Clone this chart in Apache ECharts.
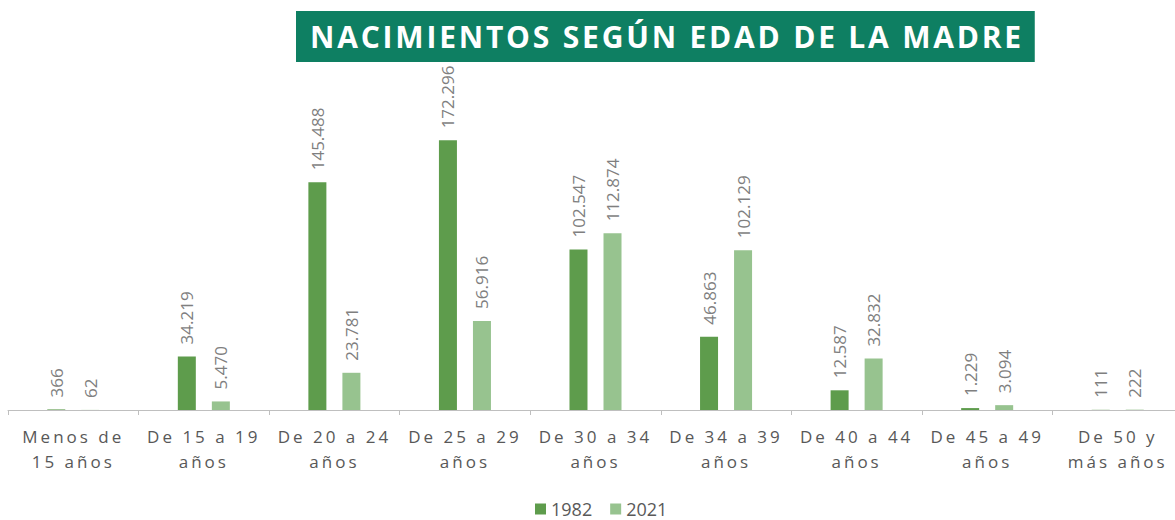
<!DOCTYPE html>
<html style="height: 100%">
   <head>
       <meta charset="utf-8">
       <style>
           /* spaced-out lettering, as in the original */
           #container svg text[fill="#585858"] { letter-spacing: 3px; }
           #container svg text[fill="#ffffff"] { letter-spacing: 2.8px; }
       </style>
   </head>
   <body style="height: 100%; margin: 0; background: #fff; overflow: hidden">
       <!-- the plot runs a little past the right edge, as in the original -->
       <div id="container" style="height: 100%; width: 1183px"></div>
       <script type="text/javascript" src="https://cdn.jsdelivr.net/npm/echarts@6/dist/echarts.min.js"></script>
       <script type="text/javascript">
var titleText = 'NACIMIENTOS SEGÚN EDAD DE LA MADRE';
var categories = ['Menos de\n15 años', 'De 15 a 19\naños', 'De 20 a 24\naños', 'De 25 a 29\naños',
    'De 30 a 34\naños', 'De 34 a 39\naños', 'De 40 a 44\naños', 'De 45 a 49\naños', 'De 50 y\nmás años'];
var births1982 = [366, 34219, 145488, 172296, 102547, 46863, 12587, 1229, 111];
var births2021 = [62, 5470, 23781, 56916, 112874, 102129, 32832, 3094, 222];
var seriesNames = ['1982', '2021'];

// 145488 -> "145.488"
var fmt = function (v) {
    return String(v).replace(/\B(?=(\d{3})+(?!\d))/g, '.');
};

var dom = document.getElementById("container");
var myChart = echarts.init(dom, null, { renderer: 'svg' });

var barLabel = {
    show: true,
    position: 'top',
    rotate: 90,
    align: 'left',
    verticalAlign: 'middle',
    distance: 12,
    color: '#7f7f7f',
    fontFamily: 'Open Sans',
    fontSize: 17,
    formatter: function (p) { return fmt(p.value); }
};

option = {
    backgroundColor: '#ffffff',
    animation: false,
    title: {
        text: titleText,
        left: 296,
        top: 11,
        padding: [10, 106, 11, 14],
        backgroundColor: '#0e7f62',
        textStyle: {
            color: '#ffffff',
            fontFamily: 'Open Sans',
            fontWeight: 'bold',
            fontSize: 30,
            lineHeight: 30
        }
    },
    legend: {
        data: seriesNames,
        left: 530,
        top: 495,
        itemWidth: 11,
        itemHeight: 11,
        itemGap: 18,
        icon: 'rect',
        textStyle: {
            color: '#595959',
            fontFamily: 'Open Sans',
            fontSize: 18,
            lineHeight: 18
        }
    },
    grid: {
        left: 8,
        right: 0,
        top: 97,
        bottom: 110
    },
    xAxis: {
        type: 'category',
        data: categories,
        axisLine: { lineStyle: { color: '#bfbfbf', width: 1 } },
        axisTick: { show: true, length: 5, lineStyle: { color: '#bfbfbf' } },
        axisLabel: {
            color: '#585858',
            fontFamily: 'Open Sans',
            fontSize: 17,
            lineHeight: 25,
            margin: 14,
            interval: 0
        }
    },
    yAxis: {
        type: 'value',
        min: 0,
        max: 200000,
        show: false,
        splitLine: { show: false }
    },
    series: [
        {
            name: seriesNames[0],
            type: 'bar',
            barWidth: 18,
            barGap: '89%',
            itemStyle: { color: '#5e9c4c' },
            label: barLabel,
            data: births1982
        },
        {
            name: seriesNames[1],
            type: 'bar',
            barWidth: 18,
            itemStyle: { color: '#97c38f' },
            label: barLabel,
            data: births2021
        }
    ]
};

if (option && typeof option === "object") {
    myChart.setOption(option, true);
}
window.onresize = function () {
    myChart.resize();
};
       </script>
   </body>
</html>
